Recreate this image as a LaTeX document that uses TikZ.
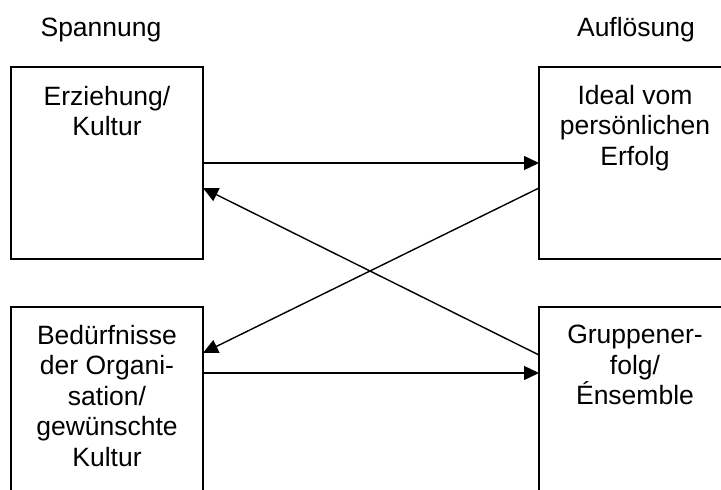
\documentclass[tikz,border=0pt]{standalone}
\usepackage{fontspec}
\setmainfont{Liberation Sans}
\usetikzlibrary{arrows.meta,calc}
\begin{document}
\begin{tikzpicture}[x=1bp,y=-1bp,
  box/.style={draw,line width=1.5bp,minimum width=192bp,minimum height=192bp,inner sep=0pt,outer sep=0pt},
  txt/.style={anchor=north,inner sep=0pt,align=center,font=\fontsize{26.5bp}{30.5bp}\selectfont},
  conn/.style={line width=1.4bp,-{Triangle[length=15bp,width=14bp]}}]
\useasboundingbox (0,0) rectangle (721,490);
\clip (0,0) rectangle (721,490);
\node[box] (lt) at (107,163) {};
\node[box] (rt) at (635,163) {};
\node[box] (lb) at (107,403) {};
\node[box] (rb) at (635,403) {};
\node[txt] (h1) at (101,18) {Spannung};
\node[txt] (h2) at (636,17) {Auflösung};
\node[txt] (t1) at ($(lt.north)+(0,19)$) {Erziehung/\\Kultur};
\node[txt] (t2) at ($(rt.north)+(0,18)$) {Ideal vom\\persönlichen\\Erfolg};
\node[txt] (t3) at ($(lb.north)+(0,18)$) {Bedürfnisse\\der Organi-\\sation/\\gewünschte\\Kultur};
\node[txt] (t4) at ($(rb.north)+(0,18)$) {Gruppener-\\folg/\\Énsemble};
\draw[conn] (lt.east) -- (rt.west);
\draw[conn] ($(rt.west)+(0,25)$) -- ($(lb.north east)+(0,46)$);
\draw[conn] ($(rb.north west)+(0,48)$) -- ($(lt.east)+(0,25)$);
\draw[conn] ($(lb.north east)+(0,66)$) -- ($(rb.north west)+(0,66)$);
\end{tikzpicture}
\end{document}
